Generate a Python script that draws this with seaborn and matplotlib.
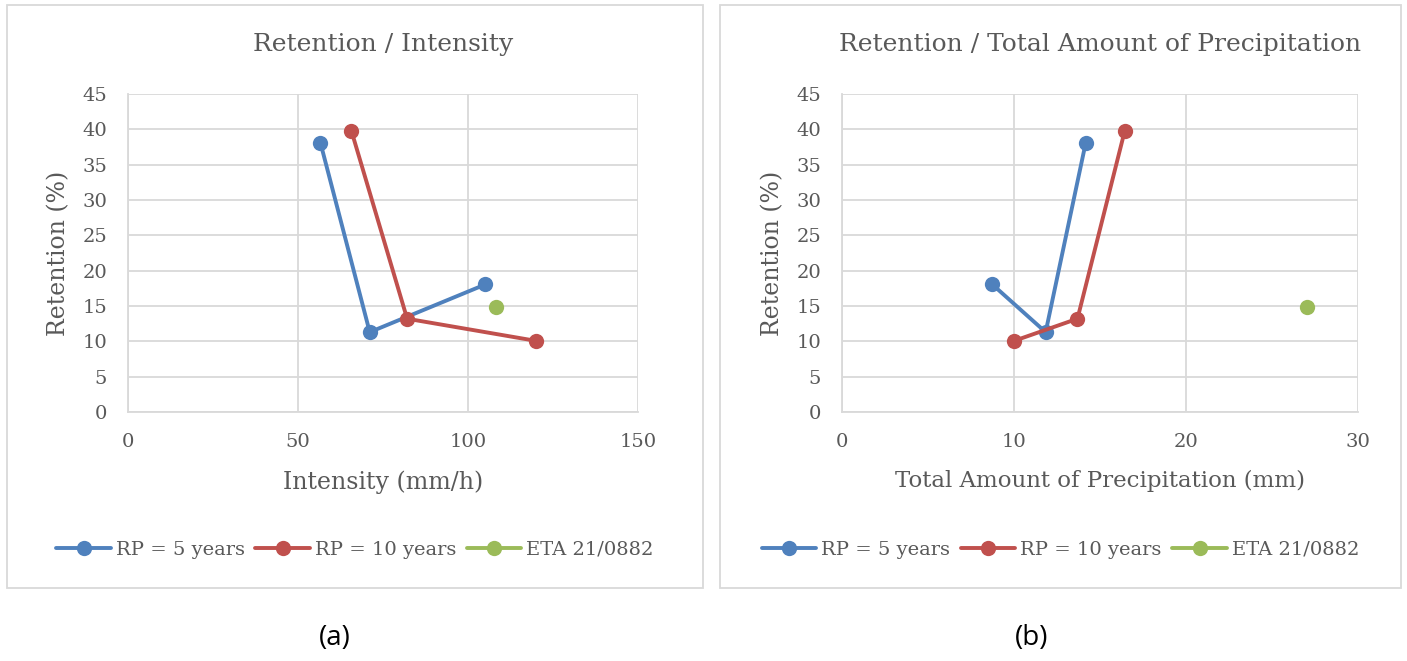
import matplotlib
matplotlib.use("Agg")
import matplotlib.pyplot as plt
from matplotlib.patches import Rectangle
from matplotlib.lines import Line2D
import seaborn as sns
import pandas as pd

# Data
series_names = ["RP = 5 years", "RP = 10 years", "ETA 21/0882"]
colors = ["#4f81bd", "#c0504d", "#9bbb59"]

intensity_rp5 = [56.6, 71.1, 105.1]
retention_int_rp5 = [38.1, 11.3, 18.05]
intensity_rp10 = [65.7, 82.1, 120.1]
retention_int_rp10 = [39.8, 13.2, 10.06]
intensity_eta = [108.1]
retention_int_eta = [14.87]

total_rp5 = [8.74, 11.84, 14.17]
retention_tot_rp5 = [18.05, 11.3, 38.1]
total_rp10 = [10.0, 13.69, 16.44]
retention_tot_rp10 = [10.06, 13.2, 39.8]
total_eta = [27.04]
retention_tot_eta = [14.87]

titles = ["Retention / Intensity", "Retention / Total Amount of Precipitation"]
xlabels = ["Intensity (mm/h)", "Total Amount of Precipitation (mm)"]
ylabel = "Retention (%)"
panel_labels = ["(a)", "(b)"]

sns.set_theme(style="white")
serif = ["DejaVu Serif", "Liberation Serif"]
plt.rcParams["font.family"] = serif

W, H = 1407, 661
fig = plt.figure(figsize=(W / 100, H / 100), dpi=100)
fig.patch.set_facecolor("white")

grey = "#d9d9d9"
txt = "#595959"

def df_of(xs, ys):
    rows = []
    for name, x, y in zip(series_names, xs, ys):
        for xi, yi in zip(x, y):
            rows.append({"x": xi, "y": yi, "series": name})
    return pd.DataFrame(rows)

panels = [
    dict(df=df_of([intensity_rp5, intensity_rp10, intensity_eta],
                  [retention_int_rp5, retention_int_rp10, retention_int_eta]),
         xlim=(0, 150), xticks=[0, 50, 100, 150], xlabel_size=17,
         rect=[128 / W, 1 - 412 / H, 510 / W, 318 / H],
         box=(7, 5, 703, 588), label_x=335),
    dict(df=df_of([total_rp5, total_rp10, total_eta],
                  [retention_tot_rp5, retention_tot_rp10, retention_tot_eta]),
         xlim=(0, 30), xticks=[0, 10, 20, 30], xlabel_size=16.5,
         rect=[842 / W, 1 - 412 / H, 516 / W, 318 / H],
         box=(720, 5, 1401, 588), label_x=1032),
]

for i, p in enumerate(panels):
    x0, y0, x1, y1 = p["box"]
    fig.patches.append(Rectangle((x0 / W, 1 - y1 / H), (x1 - x0) / W, (y1 - y0) / H,
                                 transform=fig.transFigure, fill=False,
                                 edgecolor=grey, linewidth=1.3, zorder=0))
    ax = fig.add_axes(p["rect"])
    sns.lineplot(data=p["df"], x="x", y="y", hue="series", hue_order=series_names,
                 palette=colors, sort=False, estimator=None, marker="o",
                 markersize=11, markeredgewidth=0, linewidth=2.8, ax=ax,
                 legend=False, zorder=3)
    ax.set_xlim(*p["xlim"])
    ax.set_ylim(0, 45)
    ax.set_xticks(p["xticks"])
    ax.set_yticks(range(0, 46, 5))
    ax.grid(True, color=grey, linewidth=1.3)
    ax.set_axisbelow(True)
    for s in ["top", "right"]:
        ax.spines[s].set_visible(False)
    for s in ["left", "bottom"]:
        ax.spines[s].set_color(grey)
        ax.spines[s].set_linewidth(1.3)
    ax.tick_params(axis="both", length=0, labelsize=14, labelcolor=txt, pad=15)
    ax.set_title(titles[i], fontsize=18, color=txt, pad=31)
    ax.set_xlabel(xlabels[i], fontsize=p["xlabel_size"], color=txt, labelpad=14)
    ax.set_ylabel(ylabel, fontsize=17, color=txt, labelpad=9)

    handles = [Line2D([0], [0], color=c, lw=2.8, marker="o", markersize=11,
                      markeredgewidth=0) for c in colors]
    cx = (x0 + x1) / 2 / W
    fig.legend(handles, series_names, loc="center", bbox_to_anchor=(cx, 1 - 550 / H),
               ncol=3, frameon=False, labelcolor=txt,
               handlelength=2.8, handletextpad=0.25, columnspacing=0.55,
               prop={"family": serif, "size": 14})

    fig.text(p["label_x"] / W, 1 - 638 / H, panel_labels[i], ha="center", va="center",
             fontsize=20, color="black", family=["Open Sans", "DejaVu Sans"])

fig.savefig("out.png", dpi=100, facecolor="white")
